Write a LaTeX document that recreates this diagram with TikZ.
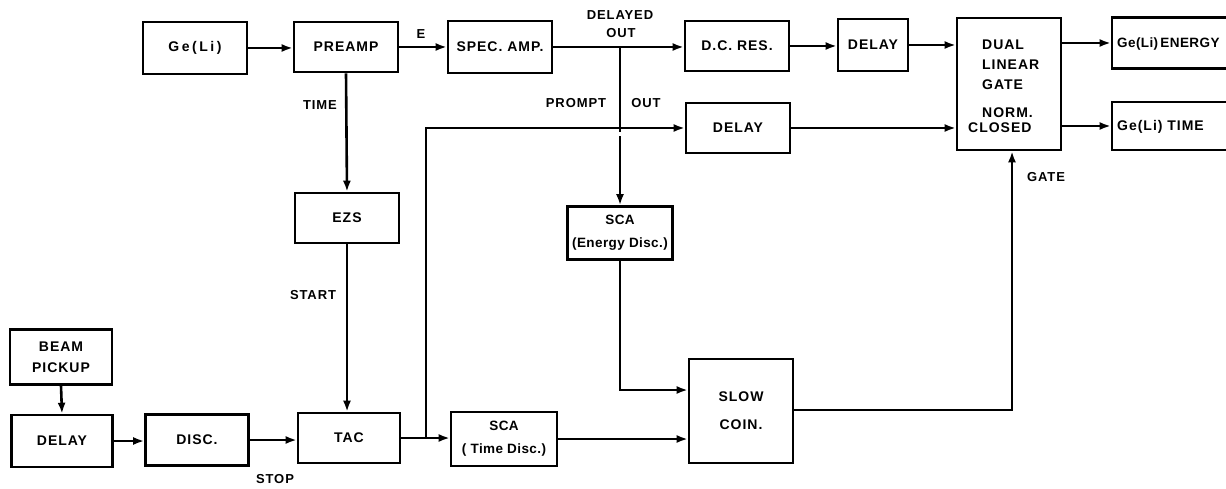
\documentclass[tikz,border=0pt]{standalone}
\usepackage{fontspec}
\setmainfont{Liberation Sans}
\newfontfamily\wide{Liberation Sans}[LetterSpace=7]
\newfontfamily\wider{Liberation Sans}[LetterSpace=18]
\newfontfamily\narrow{Liberation Sans}[LetterSpace=3]
\usetikzlibrary{arrows.meta}
\begin{document}
\begin{tikzpicture}[x=1pt,y=-1pt,
  blk/.style={draw, line width=2.6pt, inner sep=0pt, align=center,
    font=\wide\bfseries\fontsize{14}{21}\selectfont},
  ln/.style={line width=2.6pt},
  arr/.style={ln, -{Latex[length=11pt,width=8pt]}},
  lbl/.style={inner sep=0pt, font=\wide\bfseries\fontsize{13}{15}\selectfont},
  gt/.style={lbl, anchor=west, font=\wide\bfseries\fontsize{14}{15}\selectfont}]
\useasboundingbox (0,0) rectangle (1226,489);
\clip (0,0) rectangle (1226,489);
% top row
\node[blk, minimum width=104pt, minimum height=52pt, font=\wider\bfseries\fontsize{14}{21}\selectfont] (gel) at (195,48) {Ge(Li)};
\node[blk, minimum width=104pt, minimum height=50pt] (pre) at (346,47) {PREAMP};
\node[blk, minimum width=104pt, minimum height=52pt] (spec) at (500,47) {SPEC. AMP.};
\node[blk, minimum width=104pt, minimum height=50pt] (dcr) at (737,46) {D.C. RES.};
\node[blk, minimum width=70pt, minimum height=52pt] (dly1) at (873,45) {DELAY};
\node[blk, minimum width=104pt, minimum height=132pt] (dlg) at (1009,84) {};
\node[blk, minimum width=116pt, minimum height=51pt] (ene) at (1170,43) {};
\node[blk, minimum width=116pt, minimum height=48pt] (tim) at (1170,126) {};
\node[blk, minimum width=104pt, minimum height=50pt] (dly2) at (738,128) {DELAY};
% middle
\node[blk, minimum width=104pt, minimum height=50pt] (ezs) at (347,218) {EZS};
\node[blk, minimum width=105pt, minimum height=53pt, font=\narrow\bfseries\fontsize{13.5}{23}\selectfont] (scae) at (620,233) {SCA\\(Energy Disc.)};
\node[blk, minimum width=104pt, minimum height=104pt, font=\wide\bfseries\fontsize{14}{28}\selectfont] (slow) at (741,411) {SLOW\\COIN.};
\node[blk, minimum width=106pt, minimum height=54pt, font=\narrow\bfseries\fontsize{13.5}{23}\selectfont] (scat) at (504,439) {SCA\\( Time Disc.)};
% bottom
\node[blk, minimum width=102pt, minimum height=55pt] (beam) at (61,357) {BEAM\\PICKUP};
\node[blk, minimum width=101pt, minimum height=52pt] (dly3) at (62,441) {DELAY};
\node[blk, minimum width=103pt, minimum height=51pt] (disc) at (197,440) {DISC.};
\node[blk, minimum width=102pt, minimum height=50pt] (tac) at (349,438) {TAC};
% texts in gate box and output boxes
\node[gt] (t1) at (982,45) {DUAL};
\node[gt] (t2) at (982,65) {LINEAR};
\node[gt] (t3) at (982,85) {GATE};
\node[gt] (t4) at (982,113) {NORM.};
\node[gt] (t5) at (968,128) {CLOSED};
\node[gt, font=\narrow\bfseries\fontsize{13.5}{15}\selectfont] (t6) at (1117,44) {Ge(Li)\,ENERGY};
\node[gt] (t7) at (1117,127) {Ge(Li) TIME};
% connectors
\coordinate (j1) at (620,47);
\coordinate (j2) at (426,438);
\coordinate (g1) at (1012,410);
\draw[arr] (gel.east) -- (pre.west |- gel.east);
\draw[arr] (pre.east) -- (spec.west |- pre.east);
\draw[arr] (spec.east) -- (dcr.west |- spec.east);
\draw[arr] (j1) -- (scae.north);
\draw[arr] (dcr.east) -- (dly1.west |- dcr.east);
\draw[arr] (dly1.east) -- (dlg.west |- dly1.east);
\draw[arr] (dlg.east |- ene.west) -- (ene.west);
\draw[arr] (dlg.east |- tim.west) -- (tim.west);
\draw[arr] (pre.south) -- (ezs.north);
\draw[arr] (ezs.south) -- (tac.north -| ezs.south);
\draw[arr] (beam.south) -- (dly3.north);
\draw[arr] (dly3.east) -- (disc.west |- dly3.east);
\draw[arr] (disc.east) -- (tac.west |- disc.east);
\draw[arr] (tac.east) -- (scat.west |- tac.east);
% small gap in the vertical line just below the crossing
\draw[white, line width=4pt] (620,132.5) -- (620,136.5);
\draw[arr] (j2) -- (j2 |- dly2.west) -- (dly2.west);
\draw[arr] (dly2.east) -- (dlg.west |- dly2.east);
\draw[arr] (scae.south) -- (620,390) -- (slow.west |- 0,390);
\draw[arr] (scat.east) -- (slow.west |- scat.east);
\draw[arr] (slow.east |- g1) -- (g1) -- (g1 |- dlg.south);
% labels
\node[lbl] (lE) at (421,34) {E};
\node[lbl] (lD1) at (620,15) {DELAYED};
\node[lbl] (lD2) at (621,33) {OUT};
\node[lbl] (lP) at (576,103) {PROMPT};
\node[lbl] (lO) at (646,103) {OUT};
\node[lbl] (lT) at (320,105) {TIME};
\node[lbl] (lS) at (313,295) {START};
\node[lbl] (lST) at (275,479) {STOP};
\node[lbl] (lG) at (1046,177) {GATE};
\end{tikzpicture}
\end{document}
